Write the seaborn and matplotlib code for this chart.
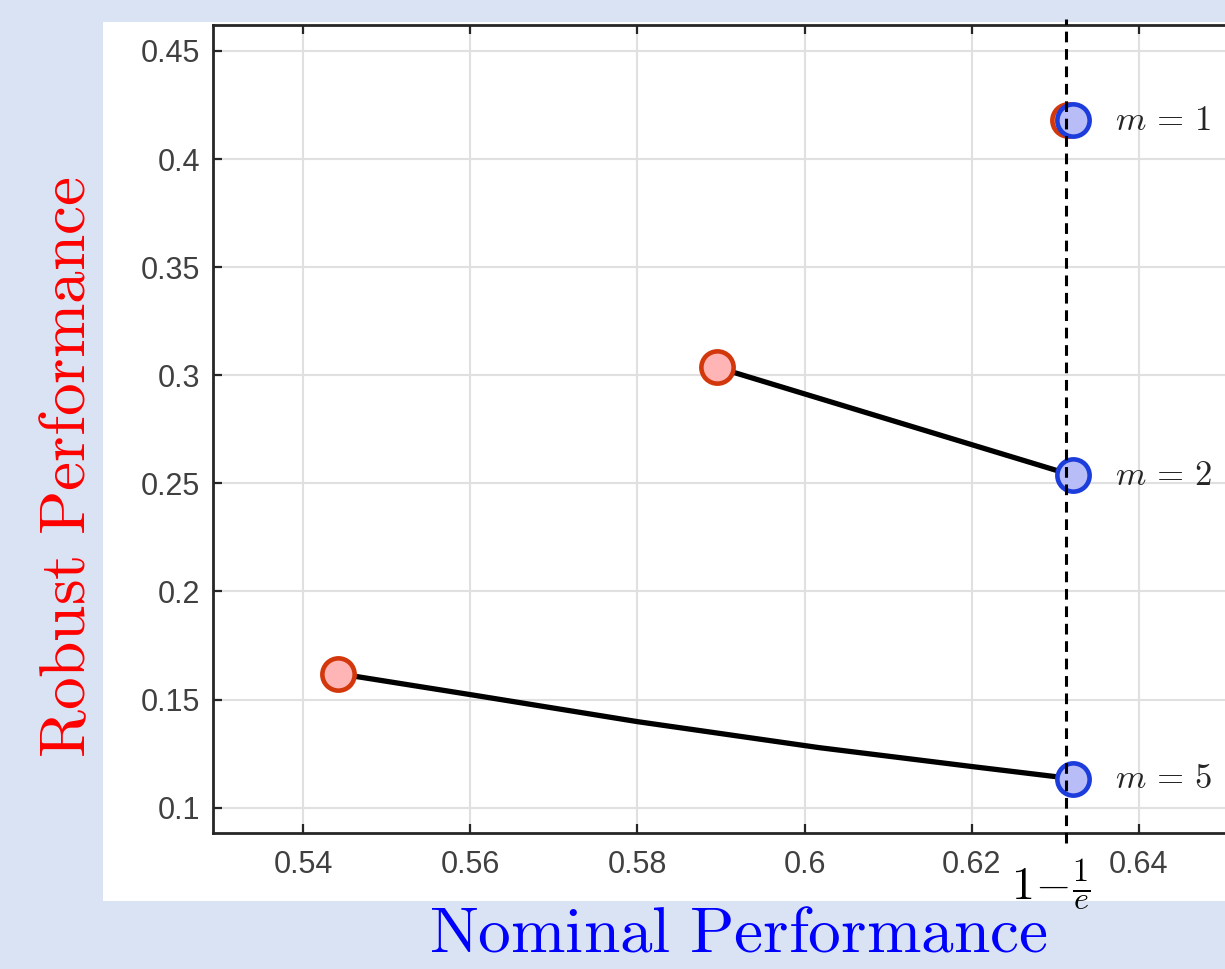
import numpy as np
import pandas as pd
import matplotlib.pyplot as plt
import seaborn as sns
from matplotlib.patches import Rectangle
from matplotlib.ticker import FixedLocator, FixedFormatter

# 数据
x_m5 = [0.5442, 0.5600, 0.5800, 0.6017, 0.6201, 0.6321]
y_m5 = [0.1620, 0.1523, 0.1398, 0.1278, 0.1190, 0.1134]
x_m2 = [0.5895, 0.6321]
y_m2 = [0.3037, 0.2537]

red_x = [0.6315, 0.5895, 0.5442]
red_y = [0.418, 0.3037, 0.1620]
blue_x = [0.6321, 0.6321, 0.6321]
blue_y = [0.418, 0.2537, 0.1134]
m_labels = [r'$m\,=\,1$', r'$m\,=\,2$', r'$m\,=\,5$']

x_dash = 0.6313
xticks = [0.54, 0.56, 0.58, 0.60, 0.62, 0.64]
xtick_labels = ['0.54', '0.56', '0.58', '0.6', '0.62', '0.64']
yticks = [0.10, 0.15, 0.20, 0.25, 0.30, 0.35, 0.40, 0.45]
ytick_labels = ['0.1', '0.15', '0.2', '0.25', '0.3', '0.35', '0.4', '0.45']

sns.set_theme(style='whitegrid')
plt.rcParams['font.family'] = ['Liberation Sans', 'DejaVu Sans']
plt.rcParams['mathtext.fontset'] = 'cm'

fig = plt.figure(figsize=(12.25, 9.69), dpi=100)
fig.patch.set_facecolor('#dae3f3')
fig.patches.append(Rectangle((103 / 1225, 68 / 969), 1.0, 879 / 969,
                             transform=fig.transFigure, facecolor='white',
                             edgecolor='none', zorder=-1))

ax = fig.add_axes([213 / 1225, 136 / 969, 1093 / 1225, 808 / 969])
ax.set_zorder(1)
ax.set_facecolor('white')

# 连线
df5 = pd.DataFrame({'x': x_m5, 'y': y_m5})
df2 = pd.DataFrame({'x': x_m2, 'y': y_m2})
sns.lineplot(data=df5, x='x', y='y', ax=ax, color='black', lw=3.8,
             sort=False, estimator=None, zorder=3)
sns.lineplot(data=df2, x='x', y='y', ax=ax, color='black', lw=3.8,
             sort=False, estimator=None, zorder=3)

# 点
sns.scatterplot(x=red_x, y=red_y, ax=ax, s=540, color='#ffb5b5',
                edgecolor='#d2380c', linewidth=3.3, zorder=4)
sns.scatterplot(x=blue_x, y=blue_y, ax=ax, s=540, color='#b8bcf7',
                edgecolor='#1c3ddc', linewidth=3.3, zorder=5)

for bx, by, lab in zip(blue_x, blue_y, m_labels):
    ax.annotate(lab, xy=(bx, by), xytext=(30, 0), textcoords='offset points',
                ha='left', va='center', fontsize=25, color='#262626')

# 虚线 1-1/e
ax.axvline(x_dash, ymin=-0.0124, ymax=1.0074, color='black', lw=2.2,
           ls=(0, (3.5, 2.2)), clip_on=False, zorder=6)
ax.annotate(r'$1\!-\!\frac{1}{e}$', xy=(x_dash, 0),
            xycoords=ax.get_xaxis_transform(), xytext=(-11, -37),
            textcoords='offset points', ha='center', va='center',
            fontsize=33, color='black', annotation_clip=False)

ax.set_xlim(0.5292, 0.66)
ax.set_ylim(0.0883, 0.462)
ax.xaxis.set_major_locator(FixedLocator(xticks))
ax.xaxis.set_major_formatter(FixedFormatter(xtick_labels))
ax.yaxis.set_major_locator(FixedLocator(yticks))
ax.yaxis.set_major_formatter(FixedFormatter(ytick_labels))
ax.set_xlabel('')
ax.set_ylabel('')

ax.grid(True, color='#e0e0e0', lw=1.5)
for side in ['left', 'bottom', 'top', 'right']:
    ax.spines[side].set_visible(True)
    ax.spines[side].set_color('#262626')
    ax.spines[side].set_linewidth(2.0)
ax.tick_params(axis='both', direction='in', length=6.5, width=1.6,
               color='#262626', labelsize=22, labelcolor='#404040',
               top=True, right=True, bottom=True, left=True)
ax.tick_params(axis='x', pad=12)
ax.tick_params(axis='y', pad=9)

fig.text(68 / 1225, 1 - 467 / 969, r'$\mathrm{Robust\ Performance}$',
         rotation=90, ha='center', va='center', fontsize=47, color='#ff0000')
fig.text(738 / 1225, 17 / 969, r'$\mathrm{Nominal\ Performance}$',
         ha='center', va='baseline', fontsize=47, color='#0000ff')

fig.savefig('out.png', dpi=100, facecolor=fig.get_facecolor())
